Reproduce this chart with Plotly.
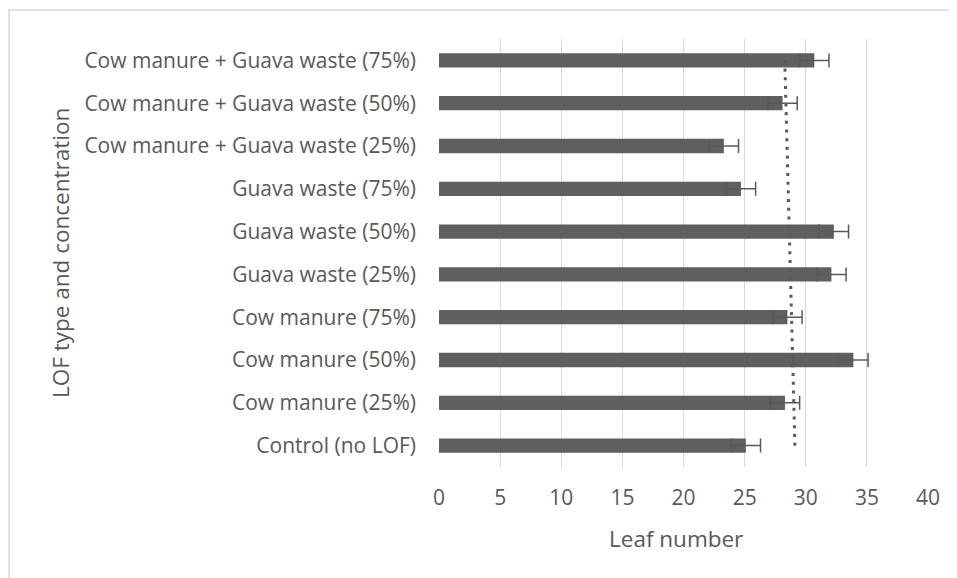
import numpy as np
import plotly.graph_objects as go

categories = [
    "Control (no LOF)",
    "Cow manure (25%)",
    "Cow manure (50%)",
    "Cow manure (75%)",
    "Guava waste (25%)",
    "Guava waste (50%)",
    "Guava waste (75%)",
    "Cow manure + Guava waste (25%)",
    "Cow manure + Guava waste (50%)",
    "Cow manure + Guava waste (75%)",
]
leaf_number = [25.1, 28.3, 33.9, 28.5, 32.1, 32.3, 24.7, 23.3, 28.1, 30.7]
error = [1.2, 1.2, 1.2, 1.2, 1.2, 1.2, 1.2, 1.2, 1.2, 1.2]
x_ticks = [0, 5, 10, 15, 20, 25, 30, 35, 40]

# Linear trendline (Excel-style) over the category order
idx = np.arange(1, len(leaf_number) + 1)
b, a = np.polyfit(idx, leaf_number, 1)
trend = list(a + b * idx)

BAR = "#5f5f5f"
TXT = "#595959"
FONT = "Open Sans"
FS = 21
FT = 22.5

L, R, T, B = 431, 37, 31, 119
PW, PH = 957 - L - R, 578 - T - B

fig = go.Figure()
fig.add_trace(go.Bar(
    y=categories, x=leaf_number, orientation="h",
    marker=dict(color=BAR, line=dict(width=0)),
    error_x=dict(type="data", array=error, visible=True, color=TXT,
                 thickness=1.5, width=7),
    showlegend=False,
))
fig.add_trace(go.Scatter(
    y=categories, x=trend, mode="lines",
    line=dict(color=TXT, width=3, dash="3px,5.7px"),
    showlegend=False,
))

fig.update_layout(
    width=957, height=578,
    margin=dict(l=L, r=R, t=T, b=B, autoexpand=False),
    paper_bgcolor="white", plot_bgcolor="white",
    bargap=0.665,
    font=dict(family=FONT, color=TXT, size=FS),
    xaxis=dict(
        range=[0, 40], tickvals=x_ticks, ticktext=[str(v) for v in x_ticks],
        showgrid=True, gridcolor="#d9d9d9", gridwidth=1.3,
        zeroline=False, showline=False, ticks="",
        ticklabelstandoff=16,
        tickfont=dict(size=FS, color=TXT, family=FONT),
    ),
    yaxis=dict(
        type="category", showgrid=False, zeroline=False, showline=False,
        ticks="", ticklabelstandoff=22,
        tickfont=dict(size=FS, color=TXT, family=FONT),
    ),
    annotations=[
        dict(text="Leaf number", xref="paper", yref="paper",
             x=(668 - L) / PW, y=(578 - B - 530) / PH,
             xanchor="center", yanchor="middle", showarrow=False,
             font=dict(size=FT, color=TXT, family=FONT)),
        dict(text="LOF type and concentration", xref="paper", yref="paper",
             x=(52 - L) / PW, y=0.5, textangle=-90,
             xanchor="center", yanchor="middle", showarrow=False,
             font=dict(size=FT, color=TXT, family=FONT)),
    ],
    shapes=[dict(
        type="rect", xref="paper", yref="paper",
        x0=(1 - L) / PW, x1=1.3, y0=-0.6, y1=(578 - B - 2) / PH,
        line=dict(color="#d9d9d9", width=1.5), fillcolor="rgba(0,0,0,0)", layer="below",
    )],
)

fig.write_html("out.html")
